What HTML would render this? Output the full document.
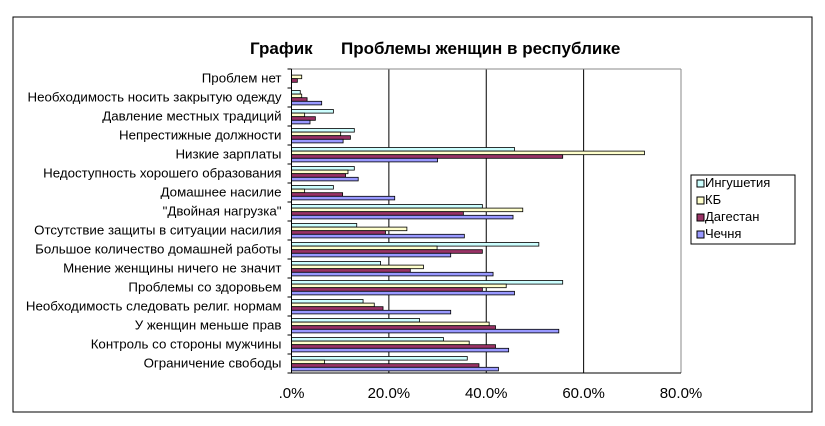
<!DOCTYPE html>
<html><head><meta charset="utf-8"><style>
body{margin:0;background:#fff;}
svg{display:block;font-family:"Liberation Sans",Arial,sans-serif;}
</style></head><body>
<svg id="chart" width="825" height="426" viewBox="0 0 825 426">
<rect x="13" y="17" width="799" height="395" fill="#fff" stroke="#000" stroke-width="1"/>
<text x="250" y="54" font-size="17" font-weight="bold">График</text>
<text x="341" y="54" font-size="17" font-weight="bold">Проблемы женщин в республике</text>
<g id="grid"></g><g id="bars"></g><g id="axes"></g>
<g>
<rect x="691" y="175" width="104" height="69" fill="#fff" stroke="#000"/>
<g id="legend"></g>
</g>
</svg>
<script>
const categories=["Проблем нет","Необходимость носить закрытую одежду","Давление местных традиций","Непрестижные должности","Низкие зарплаты","Недоступность хорошего образования","Домашнее насилие","\"Двойная нагрузка\"","Отсутствие защиты в ситуации насилия","Большое количество домашней работы","Мнение женщины ничего не значит","Проблемы со здоровьем","Необходимость следовать религ. нормам","У женщин меньше прав","Контроль со стороны мужчины","Ограничение свободы"];
const seriesNames=["Ингушетия","КБ","Дагестан","Чечня"];
const ingushetia=[0,1.8,8.6,12.9,45.8,12.9,8.6,39.2,13.4,50.8,18.3,55.7,14.7,26.3,31.2,36.1];
const kb=[2.1,2.1,2.7,10.1,72.5,11.6,2.7,47.5,23.7,29.9,27.1,44.1,17,40.6,36.5,6.8];
const dagestan=[1.2,3.2,4.9,12.1,55.7,11.1,10.5,35.3,19.3,39.2,24.4,39.2,18.8,41.9,41.9,38.5];
const chechnya=[0,6.2,3.8,10.6,30,13.7,21.2,45.5,35.5,32.7,41.4,45.8,32.7,54.9,44.6,42.5];
const ticks=[0,20,40,60,80];
const tickLabels=[".0%","20.0%","40.0%","60.0%","80.0%"];
const colors=["#ccffff","#ffffcc","#993366","#9999ff"];
const series=[ingushetia,kb,dagestan,chechnya];
const NS="http://www.w3.org/2000/svg";
const X0=291.5,X1=681,Y0=69,Y1=373;
const xs=v=>X0+(X1-X0)*v/80;
const band=(Y1-Y0)/categories.length;
function mk(t,a,p){const e=document.createElementNS(NS,t);for(const k in a)e.setAttribute(k,a[k]);p.appendChild(e);return e;}
const grid=document.getElementById('grid'),bars=document.getElementById('bars'),axes=document.getElementById('axes'),leg=document.getElementById('legend');
ticks.forEach((t,i)=>{
 if(t>0){const l=mk('line',{x1:xs(t),x2:xs(t),y1:Y0,y2:Y1,stroke:'#000','stroke-width':1},grid);
 
 }
 const tx=mk('text',{x:xs(t),y:Y1+25,'text-anchor':'middle','font-size':15},axes);
 tx.textContent=tickLabels[i];
 
 
});
mk('line',{x1:X0,x2:X1,y1:Y0,y2:Y0,stroke:'#888'},grid);
mk('line',{x1:X1,x2:X1,y1:Y0,y2:Y1,stroke:'#888'},grid);
mk('line',{x1:X0,x2:X0,y1:Y0,y2:Y1,stroke:'#000'},axes);
mk('line',{x1:X0,x2:X1,y1:Y1,y2:Y1,stroke:'#000'},axes);
const bh=3.6;
categories.forEach((c,i)=>{
 const yt=Y0+i*band;
 mk('line',{x1:X0-4,x2:X0,y1:yt,y2:yt,stroke:'#000'},axes);
 const tx=mk('text',{x:X0-10,y:yt+band/2+4,'text-anchor':'end','font-size':13.3},axes);
 tx.textContent=c;
 
 
 series.forEach((s,j)=>{
  const v=s[i];
  const r=mk('rect',{x:X0,y:yt+2.5+j*bh,width:Math.max(0,xs(v)-X0),height:bh,fill:colors[j],stroke:'#000','stroke-width':0.8},bars);
  
  
 });
});
mk('line',{x1:X0-4,x2:X0,y1:Y1,y2:Y1,stroke:'#000'},axes);
seriesNames.forEach((n,j)=>{
 const y=187+j*17;
 const r=mk('rect',{x:697,y:y-7,width:7,height:7,fill:colors[j],stroke:'#000'},leg);
 
 
 const t=mk('text',{x:705,y:y,'font-size':13},leg);
 t.textContent=n;
 
 
});
</script>
</body></html>
